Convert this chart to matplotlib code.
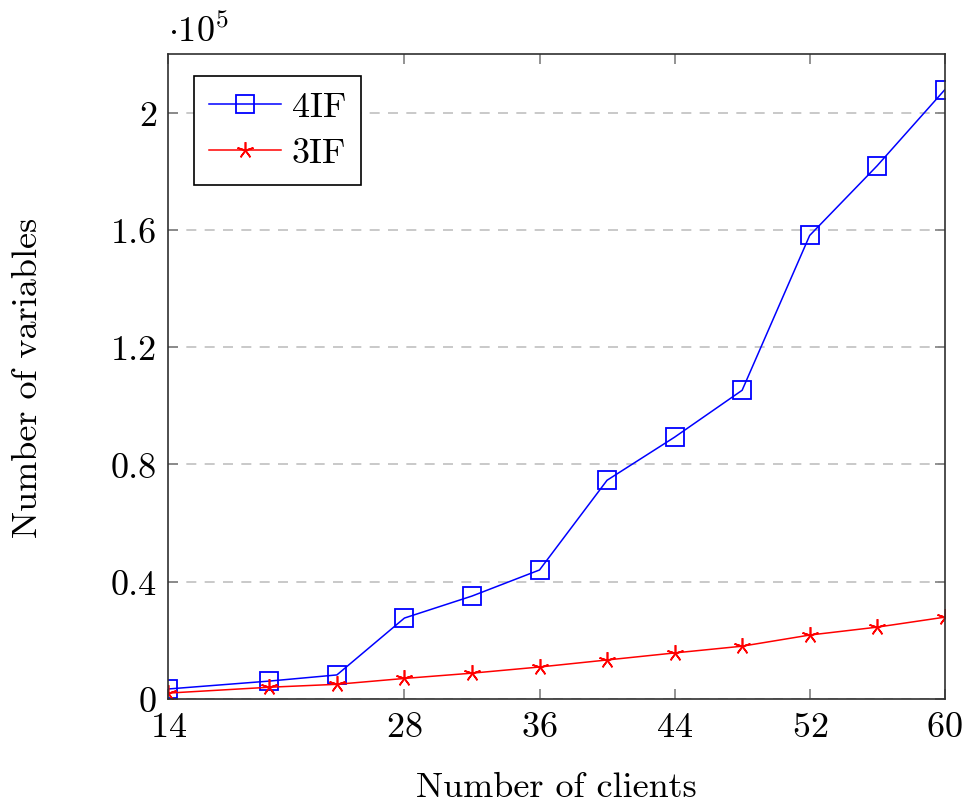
import matplotlib
matplotlib.use("Agg")
import matplotlib.pyplot as plt
from matplotlib.ticker import FuncFormatter

plt.rcParams['font.family'] = 'serif'
plt.rcParams['font.serif'] = ['cmr10']
plt.rcParams['mathtext.fontset'] = 'cm'
plt.rcParams['axes.formatter.use_mathtext'] = True

clients = [14, 20, 24, 28, 32, 36, 40, 44, 48, 52, 56, 60]
vars_4if = [3400, 6100, 8200, 27600, 35100, 44000, 74600, 89300, 105300, 158100, 181900, 207800]
vars_3if = [2000, 4000, 5000, 7000, 8800, 10900, 13300, 15700, 18000, 21800, 24500, 27900]
xticks = [14, 28, 36, 44, 52, 60]
yticks = [0, 40000, 80000, 120000, 160000, 200000]

fs = 26

fig = plt.figure(figsize=(9.77, 8.04), dpi=100)
ax = fig.add_axes([0.172, 0.1294, 0.795, 0.8022])

ax.plot(clients, vars_4if, color='#0000ff', lw=1.1, marker='s', ms=13,
        mfc='none', mec='#0000ff', mew=1.3, label='4IF')
ax.plot(clients, vars_3if, color='#ff0000', lw=1.1, marker=(5, 2, 0), ms=12,
        mec='#ff0000', mew=1.2, label='3IF')

ax.set_xlim(14, 60)
ax.set_ylim(0, 220000)
ax.set_xticks(xticks)
ax.set_yticks(yticks)
ax.yaxis.set_major_formatter(FuncFormatter(lambda v, p: '%g' % (v / 1e5)))
ax.grid(axis='y', color='#c0c0c0', ls=(0, (6, 5)), lw=1.2)
ax.tick_params(direction='in', length=7, width=1.2, color='#808080',
               top=True, right=True, labelsize=fs)
ax.tick_params(axis='x', pad=9)
ax.tick_params(axis='y', pad=8)
for s in ax.spines.values():
    s.set_color('#303030')
    s.set_linewidth(1.2)

ax.set_xlabel('Number of clients', fontsize=fs, labelpad=20)
ax.set_ylabel('Number of variables', fontsize=fs, labelpad=48)
ax.text(0.0, 1.01, r'$\cdot 10^5$', transform=ax.transAxes, fontsize=fs,
        ha='left', va='bottom')

leg = ax.legend(loc='upper left', bbox_to_anchor=(0.033, 0.966), fontsize=fs,
                frameon=True, fancybox=False, edgecolor='black',
                borderaxespad=0.0, handlelength=2.0, handletextpad=0.3,
                borderpad=0.42, labelspacing=0.38, framealpha=1)
leg.get_frame().set_linewidth(1.2)

fig.savefig('out.png', dpi=100)
